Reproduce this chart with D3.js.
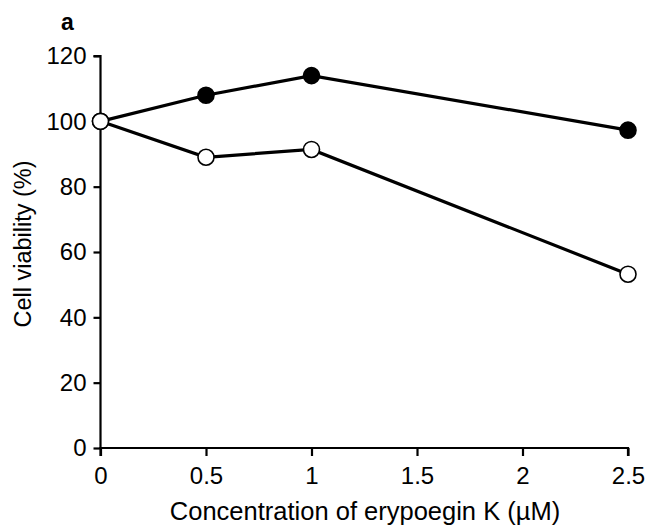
<!DOCTYPE html>
<html><head><meta charset="utf-8">
<script src="https://cdn.jsdelivr.net/npm/d3@7/dist/d3.min.js"></script>
<style>body{margin:0;background:#fff}svg{display:block}text{font-family:"Liberation Sans",Arial,sans-serif}</style>
</head><body>
<svg id="c" width="646" height="526"></svg>
<script>
const concentrations = [0, 0.5, 1, 2.5];
const filledSeries = [100, 108, 114, 97.3];
const openSeries = [100, 89, 91.4, 53.2];
const xTicks = [0, 0.5, 1, 1.5, 2, 2.5];
const yTicks = [0, 20, 40, 60, 80, 100, 120];

const svg = d3.select("#c");
const x = d3.scaleLinear().domain([0, 2.5]).range([100.5, 628]);
const y = d3.scaleLinear().domain([0, 120]).range([448, 56]);

const xAxis = svg.append("g").attr("transform", `translate(0,${y(0)})`)
  .call(d3.axisBottom(x).tickValues(xTicks).tickFormat(d => d).tickSize(8).tickPadding(11));
const yAxis = svg.append("g").attr("transform", `translate(${x(0)},0)`)
  .call(d3.axisLeft(y).tickValues(yTicks).tickSize(7).tickPadding(7));
[xAxis, yAxis].forEach(a => {
  a.select(".domain").attr("stroke", "#000").attr("stroke-width", 2.2);
  a.selectAll(".tick line").attr("stroke", "#000").attr("stroke-width", 2.2);
  a.selectAll(".tick text").attr("font-size", 24).attr("fill", "#000")
    .style("font-family", '"Liberation Sans",Arial,sans-serif');
});
yAxis.select(".domain").attr("d", `M-7,${y(120)}H0V${y(0)}`);
xAxis.select(".domain").attr("d", `M0,8V0H${x(2.5)-x(0)}V8`).attr("transform", `translate(${x(0)},0)`);

const line = d3.line().x((d, i) => x(concentrations[i])).y(d => y(d));
function drawSeries(vals, fill) {
  svg.append("path").datum(vals).attr("d", line).attr("fill", "none")
    .attr("stroke", "#000").attr("stroke-width", 3.2);
  svg.selectAll(null).data(vals).enter().append("circle")
    .attr("cx", (d, i) => x(concentrations[i])).attr("cy", d => y(d))
    .attr("r", 8).attr("fill", fill).attr("stroke", "#000").attr("stroke-width", 1.6);
}
drawSeries(filledSeries, "#000");
drawSeries(openSeries, "#fff");

svg.append("text").attr("x", 365).attr("y", 520).attr("text-anchor", "middle")
  .attr("font-size", 25.5).text("Concentration of erypoegin K (µM)");
svg.append("text").attr("transform", `translate(31,244) rotate(-90)`)
  .attr("text-anchor", "middle").attr("font-size", 23.5).text("Cell viability (%)");
svg.append("text").attr("x", 61).attr("y", 30).attr("font-size", 23)
  .attr("font-weight", "bold").text("a");
</script>
</body></html>
